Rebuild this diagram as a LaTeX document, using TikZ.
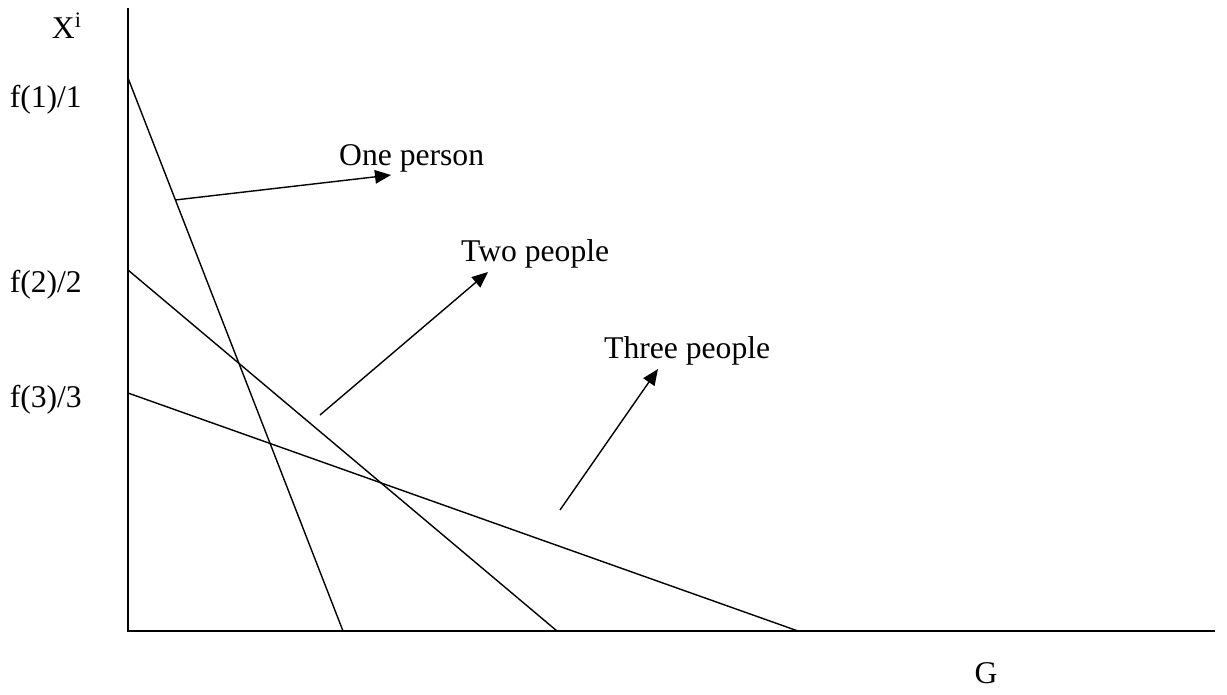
\documentclass[tikz,border=0pt]{standalone}
\usepackage{fontspec}
\setmainfont{Liberation Serif}
\usetikzlibrary{arrows.meta}
\begin{document}
\begin{tikzpicture}[x=0.02cm, y=-0.02cm, font=\fontsize{18}{22}\selectfont]
            \useasboundingbox (0,0) rectangle (1227,694);
            \coordinate (O) at (128,631);
            \coordinate (T) at (128,8);
            \coordinate (R) at (1215,631);
            \coordinate (A1) at (128,78);  \coordinate (B1) at (343,631);
            \coordinate (A2) at (128,270); \coordinate (B2) at (557,631);
            \coordinate (A3) at (128,393); \coordinate (B3) at (798,631);
            \coordinate (P1) at (175,200); \coordinate (Q1) at (391,175);
            \coordinate (P2) at (320,415); \coordinate (Q2) at (488,272);
            \coordinate (P3) at (560,510); \coordinate (Q3) at (658,369);

            \node [anchor=east] (X) at (88,26) {X\textsuperscript{i}};
            \node [anchor=east] (F1) at (88,100) {f(1)/1};
            \node [anchor=east] (F2) at (88,285) {f(2)/2};
            \node [anchor=east] (F3) at (88,400) {f(3)/3};
            \node (G) at (986,673) {G};
            \node [anchor=west] (L1) at (333,158) {One person};
            \node [anchor=west] (L2) at (455,254) {Two people};
            \node [anchor=west] (L3) at (598,351) {Three people};

            \draw [line width=1.1pt] (T) -- (O) -- (R);
            \draw [line width=0.8pt] (A1) -- (B1); \draw [line width=0.8pt] (A2) -- (B2); \draw [line width=0.8pt] (A3) -- (B3);
            \draw [line width=0.8pt, -{Triangle[length=0.32cm, width=0.27cm]}] (P1) -- (Q1);
            \draw [line width=0.8pt, -{Triangle[length=0.32cm, width=0.27cm]}] (P2) -- (Q2);
            \draw [line width=0.8pt, -{Triangle[length=0.32cm, width=0.27cm]}] (P3) -- (Q3);
        \end{tikzpicture}
\end{document}
